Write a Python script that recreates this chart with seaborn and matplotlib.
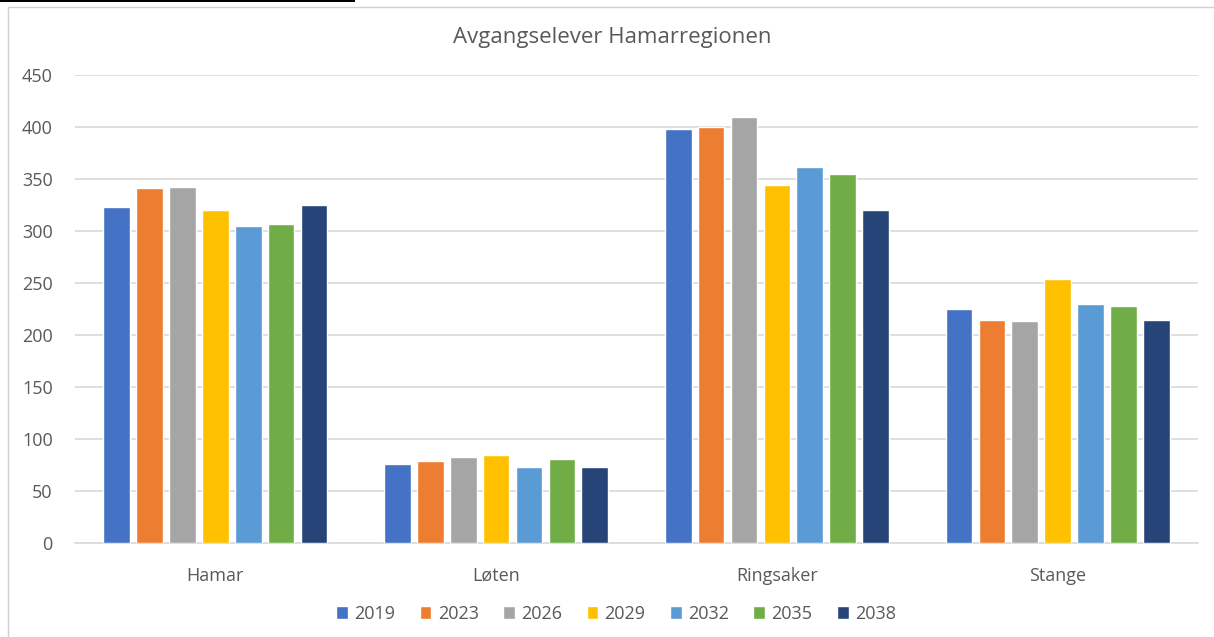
import matplotlib
matplotlib.use("Agg")
import matplotlib.pyplot as plt
import seaborn as sns
import pandas as pd
from matplotlib.patches import Rectangle

# data
kommuner = ["Hamar", "Løten", "Ringsaker", "Stange"]
years = ["2019", "2023", "2026", "2029", "2032", "2035", "2038"]
hamar = [323, 341, 342, 320, 305, 307, 325]
loten = [76, 79, 83, 85, 73, 81, 73]
ringsaker = [398, 400, 410, 344, 362, 355, 320]
stange = [225, 214, 213, 254, 230, 228, 214]
colors = ["#4472C4", "#ED7D31", "#A5A5A5", "#FFC000", "#5B9BD5", "#70AD47", "#264478"]

rows = []
for k, vals in zip(kommuner, [hamar, loten, ringsaker, stange]):
    for y, v in zip(years, vals):
        rows.append({"kommune": k, "year": y, "value": v})
df = pd.DataFrame(rows)

sns.set_style("white")
plt.rcParams["font.family"] = ["Open Sans", "DejaVu Sans"]

fig = plt.figure(figsize=(12.14, 6.37), dpi=100)
ax = fig.add_axes([75 / 1214, 1 - 543 / 637, 1123 / 1214, 468 / 637])

sns.barplot(data=df, x="kommune", y="value", hue="year", palette=colors,
            width=0.82, gap=0.19, saturation=1, ax=ax, zorder=3)

ax.set_ylim(0, 450)
ax.set_yticks(range(0, 451, 50))
ax.set_xlim(-0.5, 3.5)
ax.yaxis.grid(True, color="#d9d9d9", linewidth=1.2, zorder=0)
ax.set_axisbelow(True)
for s in ["top", "right", "left"]:
    ax.spines[s].set_visible(False)
ax.spines["bottom"].set_color("#d9d9d9")
ax.spines["bottom"].set_linewidth(1.2)
ax.tick_params(axis="both", length=0, labelsize=13, labelcolor="#595959")
ax.tick_params(axis="y", pad=16)
ax.tick_params(axis="x", pad=17)
ax.set_xlabel("")
ax.set_ylabel("")

fig.text(612 / 1214, 1 - 37 / 637, "Avgangselever Hamarregionen", ha="center", va="center",
         fontsize=16, color="#595959")

handles, labels = ax.get_legend_handles_labels()
ax.legend(handles, labels, loc="center", bbox_to_anchor=((616 - 75) / 1123, (543 - 614) / 468),
          ncol=7, frameon=False, fontsize=13, labelcolor="#595959",
          handlelength=0.65, handleheight=0.7, handletextpad=0.35, columnspacing=1.35)

# outer chart frame and the cut-off line at the top
fig.add_artist(Rectangle((8 / 1214, -0.01), 1.1, 1 - 7 / 637 + 0.01, transform=fig.transFigure,
                         fill=False, edgecolor="#d0d0d0", linewidth=1))
fig.add_artist(Rectangle((0, 1 - 2 / 637), 355 / 1214, 2 / 637, transform=fig.transFigure,
                         color="black", linewidth=0))

fig.savefig("out.png", dpi=100)
